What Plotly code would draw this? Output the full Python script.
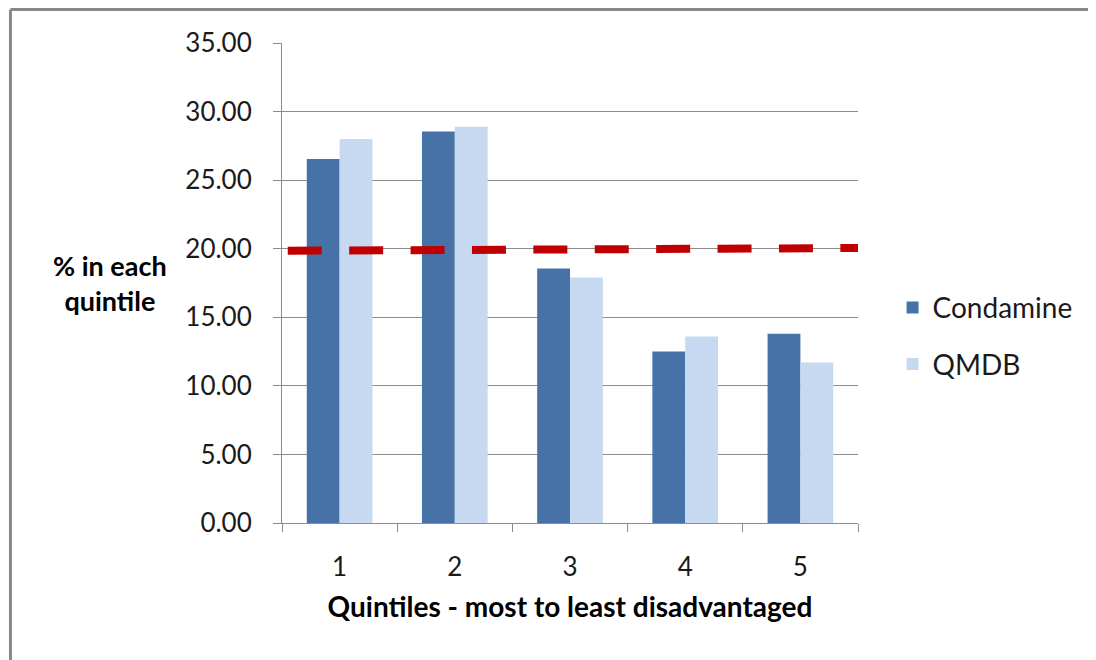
import plotly.graph_objects as go

categories = ["1", "2", "3", "4", "5"]
condamine = [26.55, 28.55, 18.55, 12.5, 13.8]
qmdb = [28.0, 28.9, 17.9, 13.6, 11.7]
ref_x = [0.01, 1.0]
ref_y = [19.85, 20.05]
y_ticks = [0, 5, 10, 15, 20, 25, 30, 35]
y_tick_labels = ["0.00", "5.00", "10.00", "15.00", "20.00", "25.00", "30.00", "35.00"]

FONT = "Lato"
GRID = "#8c8c8c"
TXT = "#1a1a1a"

fig = go.Figure()
fig.add_trace(go.Bar(x=categories, y=condamine, name="Condamine",
                     marker=dict(color="#4672A8", line=dict(width=0)),
                     legendgroup="a"))
fig.add_trace(go.Bar(x=categories, y=qmdb, name="QMDB",
                     marker=dict(color="#C6D9F1", line=dict(width=0)),
                     legendgroup="b"))
fig.add_trace(go.Scatter(x=ref_x, y=ref_y, mode="lines", xaxis="x2",
                         line=dict(color="#C00000", width=8, dash="34px,27.4px"),
                         showlegend=False, hoverinfo="skip"))

fig.update_layout(
    width=1096, height=660,
    margin=dict(l=274, r=246, t=35, b=145),
    paper_bgcolor="white", plot_bgcolor="white",
    barmode="group", bargap=0.43, bargroupgap=0,
    font=dict(family=FONT, size=26, color=TXT),
    xaxis=dict(
        type="category", showgrid=False,
        showline=True, linecolor=GRID, linewidth=1,
        ticks="outside", tickson="boundaries", ticklen=8, tickcolor=GRID,
        ticklabelstandoff=21,
        tickfont=dict(family=FONT, size=26, color=TXT),
        title=dict(text="<b>Quintiles - most to least disadvantaged</b>",
                   font=dict(family=FONT, size=28, color="#000000"), standoff=16),
    ),
    xaxis2=dict(overlaying="x", range=[0, 1], visible=False),
    yaxis=dict(
        range=[0, 35], tickvals=y_ticks, ticktext=y_tick_labels,
        showgrid=True, gridcolor=GRID, gridwidth=1,
        showline=True, linecolor=GRID, linewidth=1,
        ticks="outside", ticklen=8, tickcolor=GRID,
        ticklabelstandoff=16,
        tickfont=dict(family=FONT, size=26, color=TXT),
        zeroline=False,
    ),
    legend=dict(x=1.06, y=0.39, xanchor="left", yanchor="middle",
                font=dict(family=FONT, size=28, color=TXT),
                tracegroupgap=17, traceorder="grouped",
                bgcolor="rgba(0,0,0,0)"),
    annotations=[dict(text="<b>% in each<br>quintile</b>", xref="paper", yref="paper",
                      x=-0.2986, y=0.5, xanchor="center", yanchor="middle",
                      showarrow=False, align="center",
                      font=dict(family=FONT, size=27, color="#000000"))],
    shapes=[
        dict(type="line", xref="paper", yref="paper", x0=-0.4714, x1=-0.4714,
             y0=1.0698, y1=-0.35, line=dict(color="#888888", width=3)),
        dict(type="line", xref="paper", yref="paper", x0=-0.4714, x1=1.45,
             y0=1.0698, y1=1.0698, line=dict(color="#888888", width=3)),
    ],
)

fig.write_html("out.html")
